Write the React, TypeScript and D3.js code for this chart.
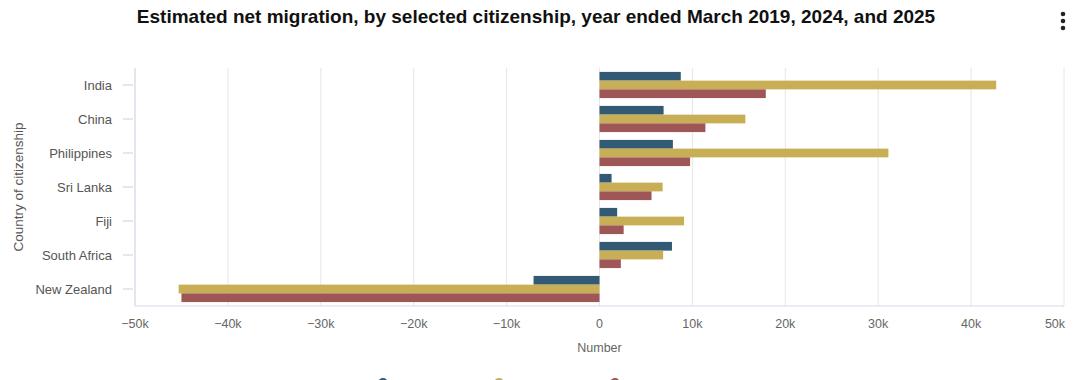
import React, { useEffect } from "react";
import * as d3 from "d3";

const categories = ["India", "China", "Philippines", "Sri Lanka", "Fiji", "South Africa", "New Zealand"];
const seriesNames = ["2019", "2024", "2025"];
const values2019 = [8750, 6900, 7900, 1300, 1900, 7800, -7100];
const values2024 = [42700, 15700, 31100, 6800, 9100, 6850, -45300];
const values2025 = [17900, 11400, 9750, 5600, 2600, 2300, -45000];
const seriesColors = ["#325a75", "#c8ae55", "#9e5656"];
const xTicks = [-50000, -40000, -30000, -20000, -10000, 0, 10000, 20000, 30000, 40000, 50000];

const W = 1080;
const H = 380;
const M = { left: 135, right: 1064, top: 68, bottom: 306 };

export default function App() {
  useEffect(() => {
    document.body.style.margin = "0";
  }, []);

  const x = d3.scaleLinear().domain([-50000, 50000]).range([M.left, M.right]);
  const y = d3.scaleBand<string>().domain(categories).range([M.top, M.bottom]).paddingInner(0.23).paddingOuter(0.115);
  const sub = d3.scaleBand<string>().domain(seriesNames).range([0, y.bandwidth()]);
  const series = [values2019, values2024, values2025];
  const fmt = (v: number) => (v === 0 ? "0" : d3.format("~s")(v).replace("-", "−"));
  const font = "'Liberation Sans', Arial, sans-serif";

  return (
    <svg width={W} height={H} style={{ display: "block", fontFamily: font }}>
      <text x={536} y={23} textAnchor="middle" fontSize={19} fontWeight="bold" fill="#111">
        Estimated net migration, by selected citizenship, year ended March 2019, 2024, and 2025
      </text>
      {[14, 21, 28].map((cy) => (
        <circle key={cy} cx={1063} cy={cy} r={2.3} fill="#222" />
      ))}
      {xTicks.map((t) => (
        <line key={t} x1={x(t)} x2={x(t)} y1={M.top} y2={M.bottom} stroke="#e6e6e6" strokeWidth={1} />
      ))}
      {categories.map((c) => {
        const cy = (y(c) as number) + y.bandwidth() / 2;
        return (
          <g key={c}>
            <line x1={123} x2={133} y1={cy} y2={cy} stroke="#ccd0dc" />
            <text x={112} y={cy} dy="0.35em" textAnchor="end" fontSize={13} fill="#555">
              {c}
            </text>
          </g>
        );
      })}
      {series.map((vals, si) =>
        vals.map((v, i) => {
          const yy = (y(categories[i]) as number) + (sub(seriesNames[si]) as number);
          return (
            <rect
              key={si + "-" + i}
              x={Math.min(x(0), x(v))}
              y={yy}
              width={Math.abs(x(v) - x(0))}
              height={sub.bandwidth()}
              fill={seriesColors[si]}
            />
          );
        })
      )}
      <line x1={M.left} x2={M.left} y1={M.top} y2={M.bottom} stroke="#d8d8ee" />
      <line x1={M.left} x2={M.right} y1={M.bottom} y2={M.bottom} stroke="#d8d8ee" />
      {xTicks.map((t, i) => (
        <text
          key={"l" + t}
          x={i === xTicks.length - 1 ? x(t) - 9 : x(t)}
          y={328}
          textAnchor="middle"
          fontSize={12.5}
          fill="#666"
        >
          {fmt(t)}
        </text>
      ))}
      <text x={x(0)} y={352} textAnchor="middle" fontSize={12.5} fill="#666">
        Number
      </text>
      <text
        transform={`translate(23,${(M.top + M.bottom) / 2}) rotate(-90)`}
        textAnchor="middle"
        fontSize={13.5}
        fill="#555"
      >
        Country of citizenship
      </text>
      {seriesNames.map((n, i) => (
        <circle key={n} cx={383 + i * 116} cy={383} r={5} fill={seriesColors[i]} />
      ))}
    </svg>
  );
}
